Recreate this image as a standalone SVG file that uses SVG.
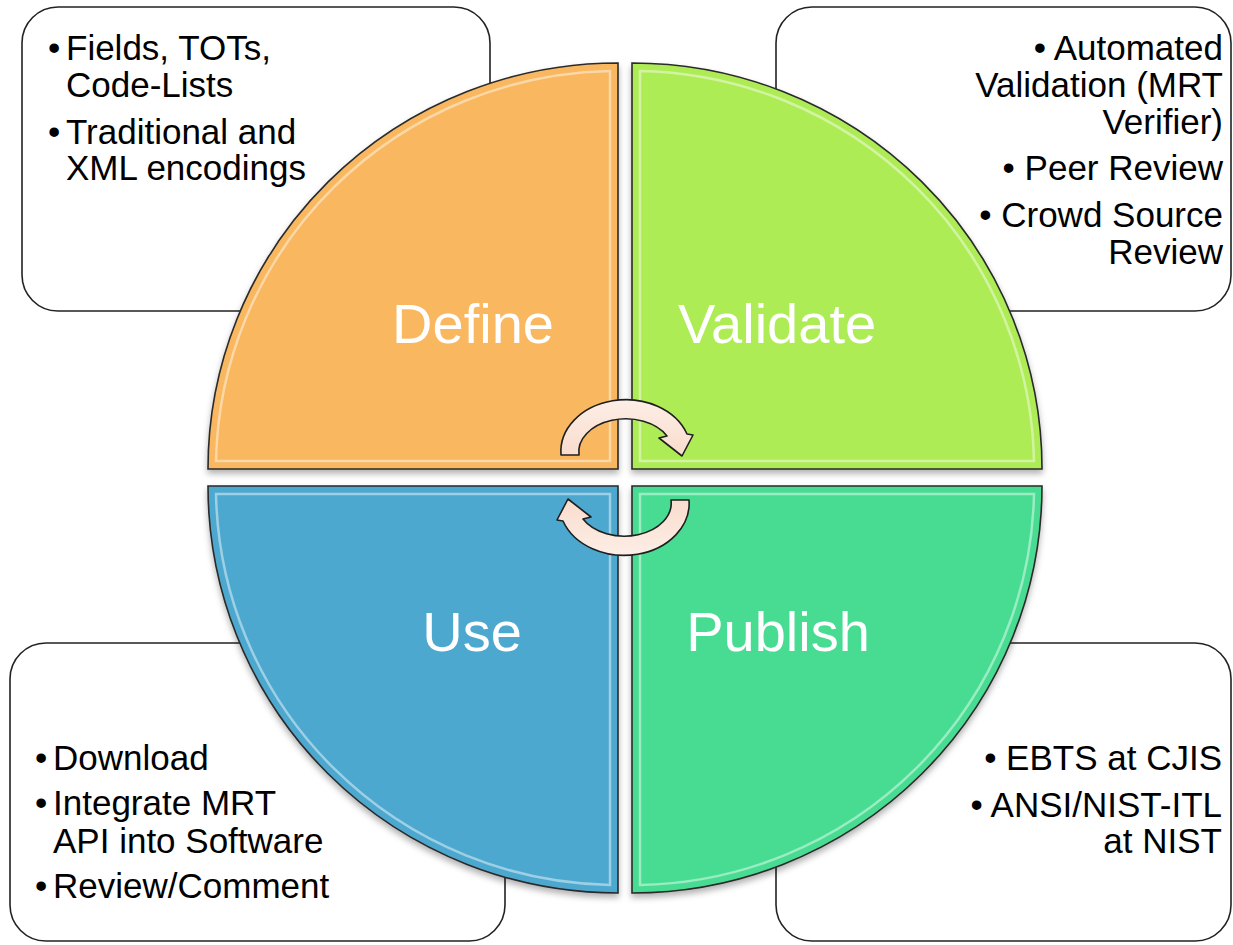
<svg xmlns="http://www.w3.org/2000/svg" width="1233" height="945" viewBox="0 0 1233 945">
  <defs>
    <style>
      .box { fill: #ffffff; stroke: #222222; stroke-width: 1.6; }
      .btxt { font-family: "Liberation Sans", Arial, sans-serif; font-size: 35px; fill: #000000; }
      .end { text-anchor: end; }
      .quad { stroke: #2a2a2a; stroke-width: 1.6; filter: url(#shadow); }
      .bevel { fill: none; stroke: #ffffff; stroke-opacity: 0.45; stroke-width: 2.5; }
      .qlabel { font-family: "Liberation Sans", Arial, sans-serif; font-size: 56px; fill: #ffffff; text-anchor: middle; }
      .arrow { fill: url(#arrowFill); stroke: #1f1f1f; stroke-width: 1.6; stroke-linejoin: round; }
    </style>
    <filter id="shadow" x="-10%" y="-10%" width="120%" height="125%">
      <feDropShadow dx="0" dy="4" stdDeviation="3" flood-color="#000000" flood-opacity="0.3"/>
    </filter>
    <linearGradient id="arrowFill" x1="0" y1="0" x2="0" y2="1">
      <stop offset="0" stop-color="#fdeee6"/>
      <stop offset="1" stop-color="#f9dccd"/>
    </linearGradient>
  </defs>

  <!-- text boxes (behind the circle) -->
  <g id="box-define">
    <rect class="box" x="22" y="7" width="468" height="304" rx="36" ry="36"/>
    <text class="btxt" x="48" y="60">•</text>
    <text class="btxt" x="66" y="60">Fields, TOTs,</text>
    <text class="btxt" x="66" y="97">Code-Lists</text>
    <text class="btxt" x="48" y="144">•</text>
    <text class="btxt" x="66" y="144">Traditional and</text>
    <text class="btxt" x="66" y="180">XML encodings</text>
  </g>
  <g id="box-validate">
    <rect class="box" x="776" y="7" width="455" height="304" rx="36" ry="36"/>
    <text class="btxt end" x="1223" y="60">• Automated</text>
    <text class="btxt end" x="1223" y="97">Validation (MRT</text>
    <text class="btxt end" x="1223" y="134">Verifier)</text>
    <text class="btxt end" x="1223" y="180">• Peer Review</text>
    <text class="btxt end" x="1223" y="227">• Crowd Source</text>
    <text class="btxt end" x="1223" y="264">Review</text>
  </g>
  <g id="box-use">
    <rect class="box" x="10" y="643" width="495" height="298" rx="36" ry="36"/>
    <text class="btxt" x="35" y="770">•</text>
    <text class="btxt" x="53" y="770">Download</text>
    <text class="btxt" x="35" y="815">•</text>
    <text class="btxt" x="53" y="815">Integrate MRT</text>
    <text class="btxt" x="53" y="853">API into Software</text>
    <text class="btxt" x="35" y="898">•</text>
    <text class="btxt" x="53" y="898">Review/Comment</text>
  </g>
  <g id="box-publish">
    <rect class="box" x="776" y="643" width="455" height="298" rx="36" ry="36"/>
    <text class="btxt end" x="1222" y="770">• EBTS at CJIS</text>
    <text class="btxt end" x="1222" y="817">• ANSI/NIST-ITL</text>
    <text class="btxt end" x="1222" y="853">at NIST</text>
  </g>

  <!-- quadrants -->
  <g id="define">
    <path class="quad" fill="#f9b75e" d="M618,469 L618,63 A410,406 0 0 0 208,469 Z"/>
    <path class="bevel" d="M610,461 L610,71 A402,398 0 0 0 216,461 Z"/>
    <text class="qlabel" x="473" y="343">Define</text>
  </g>
  <g id="validate">
    <path class="quad" fill="#aeec57" d="M632,469 L632,63 A410,406 0 0 1 1042,469 Z"/>
    <path class="bevel" d="M640,461 L640,71 A402,398 0 0 1 1034,461 Z"/>
    <text class="qlabel" x="777" y="343">Validate</text>
  </g>
  <g id="use">
    <path class="quad" fill="#4ea8cf" d="M618,486 L208,486 A410,407 0 0 0 618,893 Z"/>
    <path class="bevel" d="M610,494 L216,494 A402,399 0 0 0 610,885 Z"/>
    <text class="qlabel" x="472" y="651">Use</text>
  </g>
  <g id="publish">
    <path class="quad" fill="#47dc92" d="M632,486 L1042,486 A410,407 0 0 1 632,893 Z"/>
    <path class="bevel" d="M640,494 L1034,494 A402,399 0 0 1 640,885 Z"/>
    <text class="qlabel" x="778" y="651">Publish</text>
  </g>

  <!-- cycle arrows -->
  <g id="connectors">
    <path id="arrow-top" class="arrow" d="M561,455 A65,52 0 0 1 687,434 L693,435 L682,456 L659,438 L667,436 A47,33 0 0 0 579,455 Z"/>
    <path id="arrow-bottom" class="arrow" transform="rotate(180 625 477.5)" d="M561,455 A65,52 0 0 1 687,434 L693,435 L682,456 L659,438 L667,436 A47,33 0 0 0 579,455 Z"/>
  </g>
</svg>
